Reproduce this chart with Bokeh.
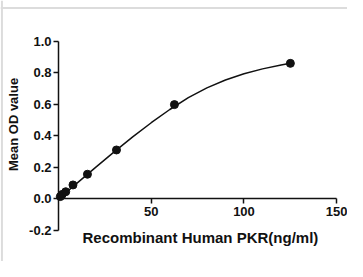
import math
from bokeh.plotting import figure
from bokeh.models import FixedTicker, NumeralTickFormatter, Range1d, Span
from bokeh.core.properties import value
from bokeh.embed import file_html
from bokeh.resources import INLINE

# Standard curve data
conc = [0.98, 1.95, 3.9, 7.8, 15.6, 31.25, 62.5, 125]
od = [0.015, 0.028, 0.046, 0.089, 0.157, 0.311, 0.599, 0.861]

# Fitted curve
fit_x = [0, 10, 20, 30, 40, 50, 60, 70, 80, 90, 100, 110, 120, 125]
fit_y = [0, 0.101, 0.201, 0.299, 0.394, 0.484, 0.568, 0.643, 0.705, 0.755, 0.795, 0.826, 0.850, 0.861]

x_ticks = [50, 100, 150]
y_ticks = [-0.2, 0.0, 0.2, 0.4, 0.6, 0.8, 1.0]
x_title = "Recombinant Human PKR(ng/ml)"
y_title = "Mean OD value"

FONT = "Liberation Sans"
INK = "#111111"

# The frame fills the whole canvas; axes cross at the origin.
p = figure(width=347, height=261, output_backend="svg", toolbar_location=None,
           x_range=Range1d(-31.27, 155.8), y_range=Range1d(-0.397, 1.26),
           min_border_left=0, min_border_right=0, min_border_top=0, min_border_bottom=0)
p.background_fill_color = "white"
p.border_fill_color = "white"
p.outline_line_color = None
p.grid.visible = False

# light grey picture border (top and left edges)
p.add_layout(Span(location=1.212, dimension="width", line_color="#dcdcdc", line_width=2))
p.add_layout(Span(location=-30.5, dimension="height", line_color="#dcdcdc", line_width=2))

def style_axis(ax):
    ax.axis_line_width = 1.5
    ax.axis_line_color = INK
    ax.major_tick_line_width = 1.5
    ax.major_tick_line_color = INK
    ax.major_tick_out = 5
    ax.major_tick_in = 0
    ax.minor_tick_line_color = None
    ax.major_label_text_font = FONT
    ax.major_label_text_font_style = "bold"
    ax.major_label_text_font_size = "13px"
    ax.major_label_text_color = INK

xa = p.xaxis[0]
xa.fixed_location = 0
xa.bounds = (0, 150)
xa.ticker = FixedTicker(ticks=x_ticks)
style_axis(xa)
xa.major_label_standoff = 3

ya = p.yaxis[0]
ya.fixed_location = 0
ya.bounds = (-0.2, 1.0)
ya.ticker = FixedTicker(ticks=y_ticks)
ya.formatter = NumeralTickFormatter(format="0.0")
style_axis(ya)
ya.major_label_standoff = 2

p.line(fit_x, fit_y, line_width=1.5, line_color=INK)
p.scatter(conc, od, size=8, fill_color=INK, line_color=INK)

# Axis titles
p.text(x=[76.5], y=[-0.244], text=[x_title], text_align="center", text_baseline="middle",
       text_font=value(FONT), text_font_style="bold", text_font_size="15px", text_color=INK)
p.text(x=[-24.3], y=[0.473], text=[y_title], angle=math.pi / 2, text_align="center",
       text_baseline="middle", text_font=value(FONT), text_font_style="bold",
       text_font_size="13px", text_color=INK)

open("out.html", "w").write(file_html(p, INLINE))
